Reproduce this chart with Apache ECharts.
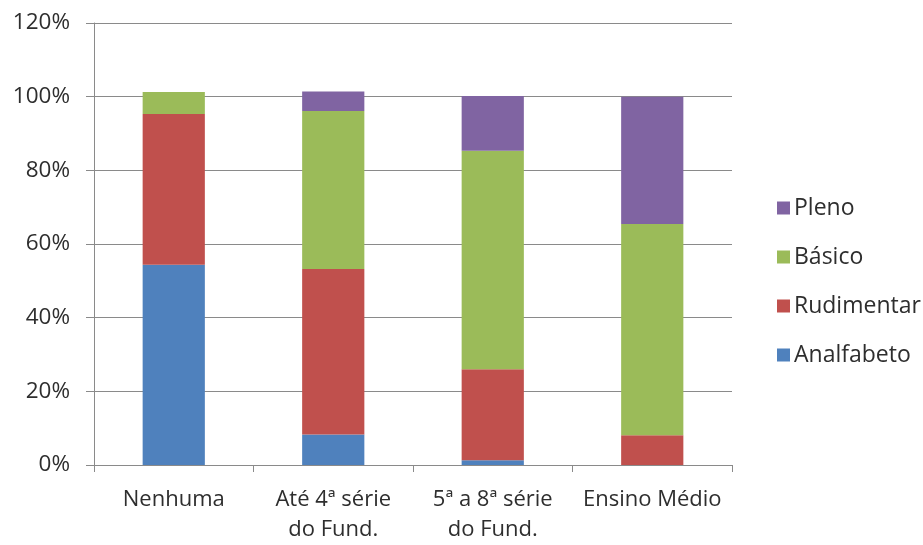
<!DOCTYPE html>
<html>
<head>
<meta charset="utf-8">
<title>Nível de alfabetismo por escolaridade</title>
<script src="https://cdn.jsdelivr.net/npm/echarts@6/dist/echarts.min.js"></script>
<style>
  html, body { margin: 0; padding: 0; background: #ffffff; }
  #chart { width: 923px; height: 545px; }
</style>
</head>
<body>
<div id="chart"></div>
<script>
// Escolaridade (categorias do eixo X)
const categories = ['Nenhuma', 'Até 4ª série\ndo Fund.', '5ª a 8ª série\ndo Fund.', 'Ensino Médio'];

// Percentuais por nível de alfabetismo (%)
const analfabeto = [54.4, 8.3, 1.3, 0];
const rudimentar = [40.9, 44.9, 24.7, 8.1];
const basico     = [6.0, 42.9, 59.3, 57.3];
const pleno      = [0, 5.3, 14.9, 34.6];

// Marcas do eixo Y
const yTicks = [0, 20, 40, 60, 80, 100, 120];

const FONT = '"Open Sans", "Noto Sans", sans-serif';
const TEXT = '#2e2e2e';
const GRID = '#8a8a8a';

const chart = echarts.init(document.getElementById('chart'));

function bar(name, data, color) {
  return {
    name: name,
    type: 'bar',
    stack: 'total',
    data: data,
    barWidth: '39%',
    itemStyle: { color: color },
    emphasis: { disabled: true }
  };
}

chart.setOption({
  animation: false,
  backgroundColor: '#ffffff',
  grid: { left: 94, right: 191, top: 23, bottom: 78.5, containLabel: false },
  legend: {
    orient: 'vertical',
    left: 772,
    top: 191,
    itemWidth: 13,
    itemHeight: 13,
    itemGap: 25,
    icon: 'rect',
    data: ['Pleno', 'Básico', 'Rudimentar', 'Analfabeto'],
    textStyle: { fontFamily: FONT, fontSize: 23, color: TEXT, lineHeight: 24, padding: [0, 0, 0, -1] }
  },
  xAxis: {
    type: 'category',
    data: categories,
    axisLine: { show: true, lineStyle: { color: GRID, width: 1 } },
    axisTick: { show: true, length: 7, lineStyle: { color: GRID } },
    axisLabel: {
      fontFamily: FONT, fontSize: 22, color: TEXT,
      lineHeight: 30, margin: 20, interval: 0
    }
  },
  yAxis: {
    type: 'value',
    min: yTicks[0],
    max: yTicks[yTicks.length - 1],
    interval: yTicks[1] - yTicks[0],
    axisLine: { show: true, lineStyle: { color: GRID, width: 1 } },
    axisTick: { show: true, length: 8, lineStyle: { color: GRID } },
    splitLine: { show: true, lineStyle: { color: GRID, width: 1 } },
    axisLabel: {
      fontFamily: FONT, fontSize: 22.5, color: TEXT, margin: 24,
      formatter: '{value}%'
    }
  },
  series: [
    bar('Analfabeto', analfabeto, '#4F81BD'),
    bar('Rudimentar', rudimentar, '#C0504D'),
    bar('Básico', basico, '#9BBB59'),
    bar('Pleno', pleno, '#8064A2')
  ]
});
</script>
</body>
</html>
